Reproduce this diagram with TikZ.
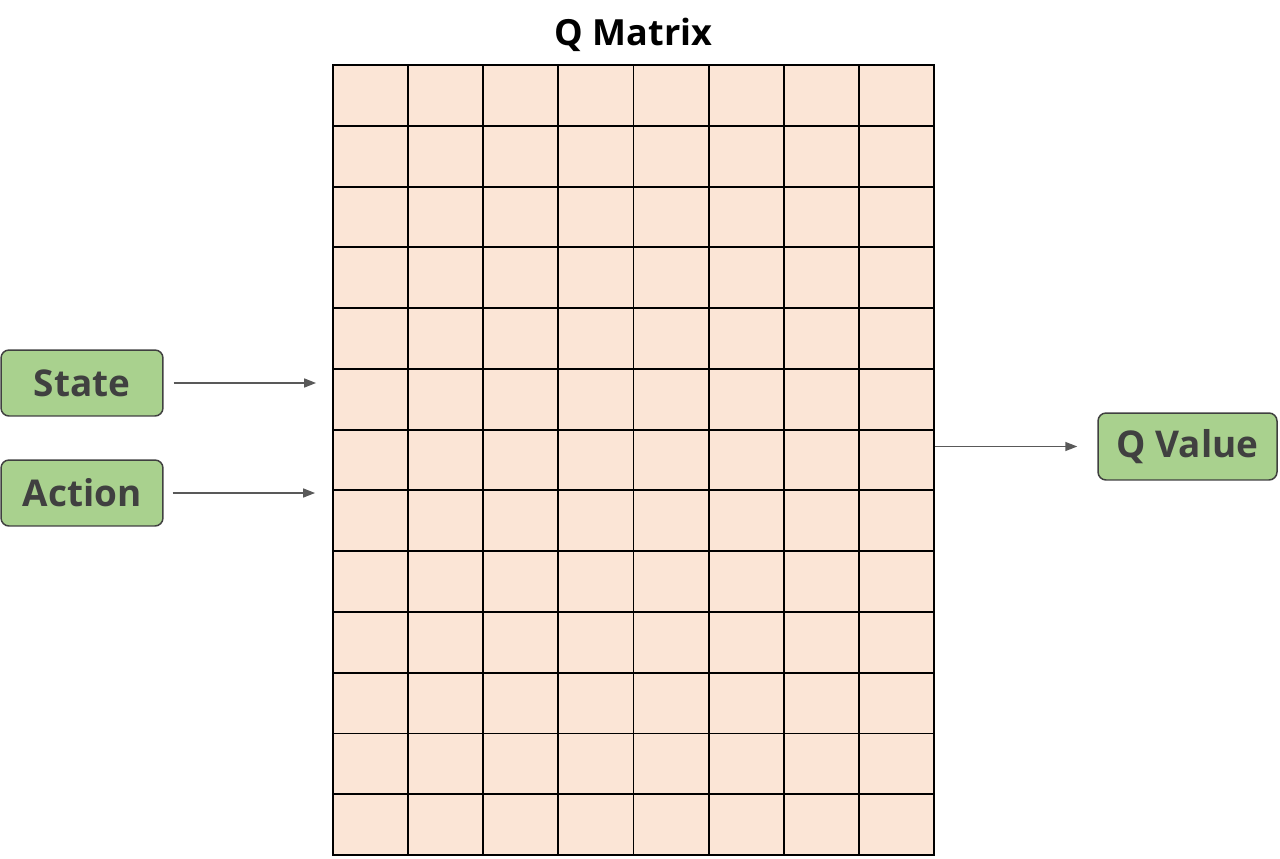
\documentclass[tikz,border=0pt]{standalone}
\usepackage{fontspec}
\setmainfont{Open Sans}
\usetikzlibrary{arrows.meta,positioning}
\definecolor{cellfill}{HTML}{FBE5D6}
\definecolor{boxfill}{HTML}{A9D18E}
\definecolor{boxline}{HTML}{404040}
\definecolor{arrline}{HTML}{595959}
\tikzset{
	inbox/.style={draw=boxline,fill=boxfill,line width=0.85pt,rounded corners=0.16cm,
		text=boxline,font=\fontsize{21}{25}\selectfont\bfseries,inner sep=0pt},
	arr/.style={draw=arrline,line width=0.85pt,-{Triangle[length=0.24cm,width=0.18cm]}}
}

\begin{document}
\begin{tikzpicture}[x=0.02cm,y=-0.02cm]
	\useasboundingbox (0,0) rectangle (1280,858);
	\node[draw,line width=1.1pt,fill=cellfill,minimum width=12.02cm,minimum height=15.8cm,inner sep=0pt] (qmat) at (633.5,460) {};
	\foreach \i in {1,...,7}
		\draw[line width=1.1pt] (333+\i*75.125,65) -- (333+\i*75.125,855);
	\foreach \j in {1,...,12}
		\draw[line width=1.1pt] (333,65+\j*60.77) -- (934,65+\j*60.77);
	\node[font=\fontsize{20.5}{24}\selectfont\bfseries,above=0.12cm of qmat] (title) {Q Matrix};
	\node[inbox,minimum width=3.24cm,minimum height=1.32cm] (state) at (82,383) {State};
	\node[inbox,minimum width=3.24cm,minimum height=1.32cm] (action) at (82,493) {Action};
	\node[inbox,minimum width=3.58cm,minimum height=1.34cm] (qval) at (1187.5,446.5) {Q Value};
	\draw[arr,shorten <=0.2cm,shorten >=0.32cm] (state) -- (state -| qmat.west);
	\draw[arr,shorten <=0.18cm,shorten >=0.34cm] (action.east) -- (action.east -| qmat.west);
	\draw[arr,shorten >=0.4cm] (qmat.east |- qval) -- (qval);
\end{tikzpicture}
\end{document}
